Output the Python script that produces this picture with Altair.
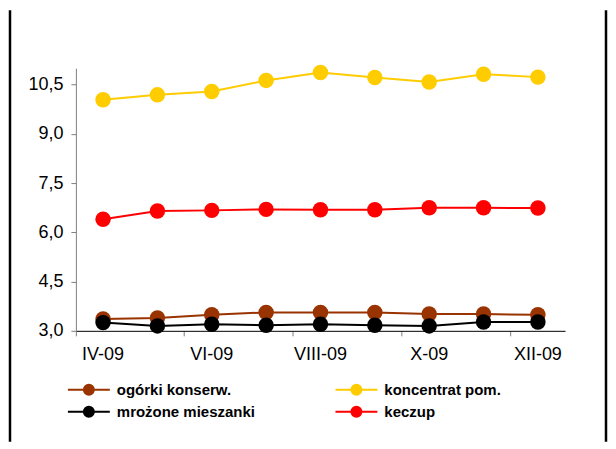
import altair as alt
import pandas as pd

months = ["IV-09", "V-09", "VI-09", "VII-09", "VIII-09", "IX-09", "X-09", "XI-09", "XII-09"]
series_names = ["ogórki konserw.", "koncentrat pom.", "mrożone mieszanki", "keczup"]
ogorki = [3.36, 3.39, 3.49, 3.56, 3.56, 3.56, 3.51, 3.51, 3.49]
koncentrat = [10.04, 10.19, 10.29, 10.63, 10.87, 10.72, 10.58, 10.82, 10.73]
mrozone = [3.25, 3.15, 3.20, 3.17, 3.20, 3.17, 3.15, 3.27, 3.27]
keczup = [6.40, 6.65, 6.67, 6.70, 6.69, 6.69, 6.75, 6.75, 6.74]
colors = ["#993300", "#FFCC00", "#000000", "#FF0000"]
# legend fills columns first, so list entries column by column
legend_order = ["ogórki konserw.", "mrożone mieszanki", "koncentrat pom.", "keczup"]
y_ticks = [3.0, 4.5, 6.0, 7.5, 9.0, 10.5]
x_labels = ["IV-09", "VI-09", "VIII-09", "X-09", "XII-09"]

values_by_series = [ogorki, koncentrat, mrozone, keczup]
rows = []
for name, vals in zip(series_names, values_by_series):
    for m, v in zip(months, vals):
        rows.append({"miesiac": m, "seria": name, "cena": v})
df = pd.DataFrame(rows)
color_of = dict(zip(series_names, colors))
legend_colors = [color_of[s] for s in legend_order]

FONT = "Liberation Sans"
W, H = 490, 263

x_enc = alt.X(
    "miesiac:N",
    sort=months,
    scale=alt.Scale(type="band", paddingInner=0, paddingOuter=0),
    axis=alt.Axis(
        title=None,
        values=x_labels,
        bandPosition=0,
        labelOffset=0,
        labelAngle=0,
        tickSize=5,
        tickColor="#808080",
        domainColor="#000000",
        labelFont=FONT,
        labelFontSize=18,
        labelColor="#000000",
        labelPadding=10,
        grid=False,
    ),
)
y_enc = alt.Y(
    "cena:Q",
    scale=alt.Scale(domain=[3, 11], nice=False, zero=False),
    axis=alt.Axis(
        title=None,
        values=y_ticks,
        labelExpr="replace(format(datum.value, '.1f'), '.', ',')",
        tickSize=5,
        tickColor="#808080",
        domainColor="#808080",
        labelFont=FONT,
        labelFontSize=18,
        labelColor="#000000",
        labelPadding=8,
        grid=False,
    ),
)

legend = alt.Legend(
    title=None,
    orient="none",
    legendX=5,
    legendY=314,
    columns=2,
    columnPadding=76,
    rowPadding=4,
    symbolType="M-3,0L3,0M0.714,0A0.714,0.714,0,1,1,-0.714,0A0.714,0.714,0,1,1,0.714,0Z",
    symbolSize=196,
    symbolStrokeWidth=2,
    symbolOpacity=1,
    labelFont=FONT,
    labelFontSize=15,
    labelFontWeight="bold",
    labelColor="#000000",
    labelOffset=20,
)

color_enc = alt.Color(
    "seria:N",
    scale=alt.Scale(domain=legend_order, range=legend_colors),
    sort=legend_order,
    legend=legend,
)

base = alt.Chart(df)
lines = base.mark_line(strokeWidth=2).encode(x=x_enc, y=y_enc, color=color_enc, detail="seria:N")
points = base.mark_circle(size=240, opacity=1).encode(x=x_enc, y=y_enc, color=color_enc)

frame_data = alt.Data(values=[{"k": 1}])
left_border = alt.Chart(frame_data).mark_rule(color="#000000", strokeWidth=2.5).encode(
    x=alt.value(-66), y=alt.value(-58), y2=alt.value(374)
)
right_border = alt.Chart(frame_data).mark_rule(color="#000000", strokeWidth=2.5).encode(
    x=alt.value(531), y=alt.value(-58), y2=alt.value(374)
)

chart = (
    alt.layer(lines, points, left_border, right_border)
    .properties(width=W, height=H, padding=0, background="#ffffff")
    .configure_view(stroke=None)
)

chart.save("out.html", embed_options={"renderer": "svg", "actions": False})
